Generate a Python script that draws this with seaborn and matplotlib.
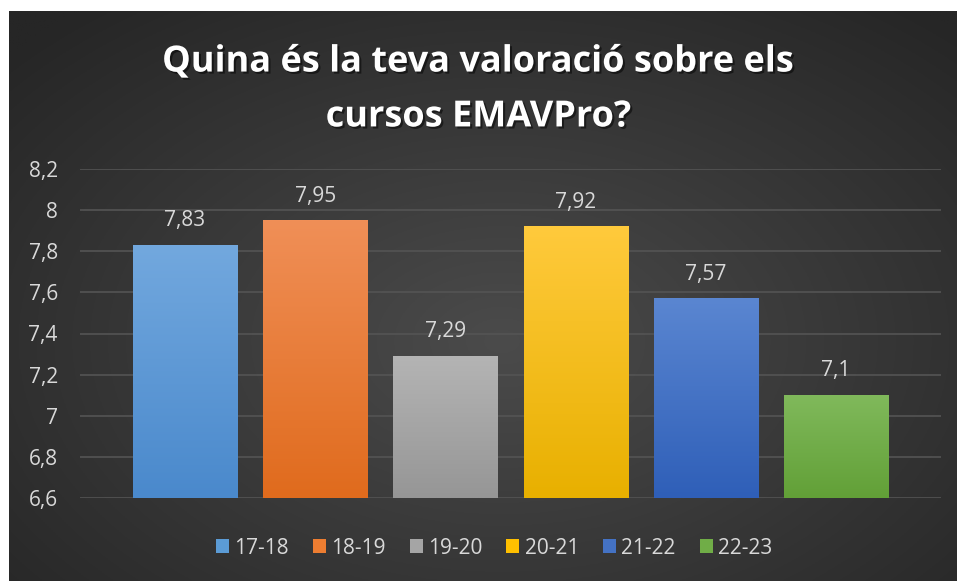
import numpy as np
import pandas as pd
import seaborn as sns
import matplotlib.pyplot as plt
import matplotlib.patheffects as pe
from matplotlib.patches import Patch
from matplotlib.colors import to_rgb

# dades
cursos = ["17-18", "18-19", "19-20", "20-21", "21-22", "22-23"]
valoracio = [7.83, 7.95, 7.29, 7.92, 7.57, 7.1]
y_ticks = [6.6, 6.8, 7.0, 7.2, 7.4, 7.6, 7.8, 8.0, 8.2]
titol = "Quina és la teva valoració sobre els\ncursos EMAVPro?"

# colors (excel style, gradient top -> bottom)
col_mid = ["#5b9bd5", "#ed7d31", "#a5a5a5", "#ffc000", "#4472c4", "#70ad47"]
col_top = ["#72a8de", "#f08f57", "#b4b4b4", "#ffca3c", "#5a86d1", "#80b95b"]
col_bot = ["#4a89cc", "#e06b1d", "#969696", "#e8b000", "#2f5fb8", "#62a037"]

txt_col = "#d9d9d9"

plt.rcParams['font.family'] = ['Open Sans', 'DejaVu Sans']

fig = plt.figure(figsize=(9.57, 5.81), dpi=100)
fig.patch.set_facecolor("white")

# fons radial
bg = fig.add_axes([9 / 957, 0, 948 / 957, 570 / 581])
yy, xx = np.mgrid[0:1:300j, 0:1:500j]
r = np.sqrt(((xx - 0.52) / 0.7) ** 2 + ((yy - 0.58) / 0.75) ** 2)
r = np.clip(r, 0, 1)
c_in = np.array(to_rgb("#4b4b4b"))
c_out = np.array(to_rgb("#262626"))
img = c_in[None, None, :] * (1 - r[..., None]) + c_out[None, None, :] * r[..., None]
bg.imshow(img, aspect="auto", extent=[0, 1, 0, 1], origin="upper")
bg.set_axis_off()

ax = fig.add_axes([80 / 957, 1 - 498 / 581, 861 / 957, 329 / 581])
ax.set_facecolor("none")

df = pd.DataFrame({"curs": cursos, "val": valoracio})
sns.barplot(data=df, x="curs", y="val", hue="curs", palette=col_mid,
            width=0.8, legend=False, ax=ax, zorder=3, saturation=1)

ymin, ymax = y_ticks[0], y_ticks[-1]
ax.set_ylim(ymin, ymax)

# gradient a les barres (nomes la part visible)
for i, cont in enumerate(ax.containers):
    for bar in cont:
        x0, w = bar.get_x(), bar.get_width()
        y_lo = max(bar.get_y(), ymin)
        y_hi = bar.get_y() + bar.get_height()
        top = np.array(to_rgb(col_top[i]))
        bot = np.array(to_rgb(col_bot[i]))
        t = np.linspace(0, 1, 100)[:, None, None]
        grad = top * (1 - t) + bot * t
        ax.imshow(grad, aspect="auto", extent=[x0, x0 + w, y_lo, y_hi],
                  origin="upper", zorder=3.5)
    labels = [f"{v:g}".replace(".", ",") for v in cont.datavalues]
    ax.bar_label(cont, labels=labels, padding=10, color=txt_col, fontsize=15)

ax.set_xlim(-0.806, 5.806)
ax.set_ylim(ymin, ymax)
ax.set_yticks(y_ticks)
ax.set_yticklabels([f"{v:g}".replace(".", ",") for v in y_ticks])
ax.set_xticks([])
ax.set_xlabel("")
ax.set_ylabel("")
ax.tick_params(axis="y", length=0, pad=16, labelsize=15, labelcolor=txt_col)
for s in ax.spines.values():
    s.set_visible(False)
ax.grid(axis="y", color="#545454", linewidth=1.2, zorder=0)
ax.set_axisbelow(True)

fig.text(0.5, 1 - 90 / 581, titol, ha="center", va="center", color="white",
         fontsize=26, fontweight="bold", linespacing=1.7,
         path_effects=[pe.withSimplePatchShadow(offset=(1.5, -1.5), shadow_rgbFace="black", alpha=0.5)])

handles = [Patch(facecolor=c, edgecolor="none") for c in col_mid]
fig.legend(handles, cursos, loc="center", bbox_to_anchor=(494 / 957, 1 - 548 / 581),
           ncol=6, frameon=False, fontsize=15, labelcolor=txt_col,
           handlelength=0.63, handleheight=0.63, handletextpad=0.25,
           columnspacing=1.15)

fig.savefig("out.png", dpi=100, facecolor=fig.get_facecolor())
